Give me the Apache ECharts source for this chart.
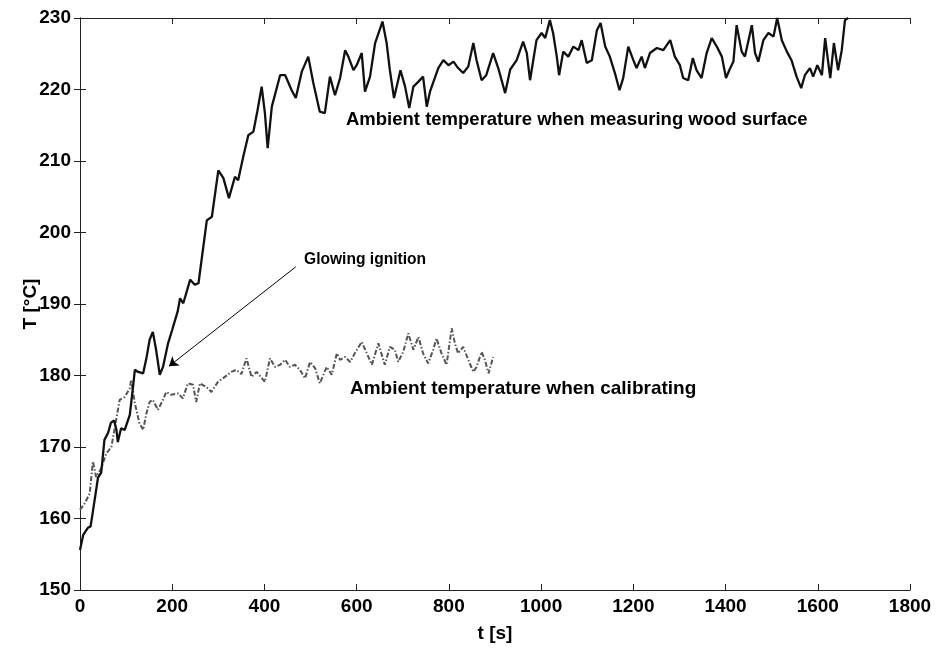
<!DOCTYPE html>
<html>
<head>
<meta charset="utf-8">
<script src="https://cdn.jsdelivr.net/npm/echarts@6/dist/echarts.min.js"></script>
<style>html,body{margin:0;padding:0;background:#fff}#c{width:936px;height:648px}</style>
</head>
<body>
<div id="c"></div>
<script>
// Ambient temperature when measuring wood surface (solid)
var tSolid = [0,7,17,23,28,39,46,53,61,67,74,79,82,89,97,108,115,119,126,137,144,151,158,165,173,180,191,200,212,217,224,239,249,257,275,286,300,311,323,336,343,354,365,376,385,394,401,407,416,434,445,459,468,481,495,506,520,531,542,553,564,575,582,593,600,611,618,629,640,656,665,672,681,695,705,714,723,734,744,752,759,777,788,799,810,820,831,842,853,860,871,881,896,907,922,933,947,961,969,976,990,1001,1009,1019,1026,1034,1039,1048,1059,1070,1081,1088,1099,1110,1121,1129,1139,1149,1160,1170,1178,1189,1200,1207,1218,1225,1236,1251,1265,1280,1290,1301,1308,1319,1329,1337,1348,1359,1370,1381,1392,1401,1408,1417,1424,1435,1442,1457,1464,1471,1482,1493,1504,1512,1522,1533,1543,1554,1564,1572,1583,1590,1599,1609,1616,1627,1635,1644,1652,1659,1666];
var TSolid = [155.6,157.7,158.7,158.9,161,165.7,166.4,171,172,173.4,173.7,172.4,170.7,172.6,172.4,174.5,178.4,180.8,180.5,180.3,182.4,185,186.1,183.6,180.1,181.2,184.5,186.4,189,190.8,190.1,193.4,192.7,192.9,201.7,202.2,208.7,207.6,204.8,207.8,207.3,210.6,213.6,214.1,217.1,220.4,216.7,211.8,217.6,222,222,219.9,218.8,222.5,224.6,220.9,216.9,216.7,221.8,219.2,221.6,225.5,224.6,222.7,223.4,225.1,219.7,221.8,226.5,229.5,226.5,222.7,218.8,222.7,220.4,217.4,220.4,221.1,221.8,217.6,219.7,223,224.1,223.4,223.9,223,222.3,223.2,226.5,224.1,221.3,222,225.1,223,219.5,222.8,224.1,226.7,225.1,221.3,226.9,227.9,227.2,229.7,227.9,224.6,222,225.3,224.6,226,225.5,226.9,223.7,224.1,228.3,229.3,226,224.6,222.3,219.9,221.6,226,224.1,223,224.6,223,225.1,225.8,225.5,226.9,224.6,223.4,221.6,221.3,224.4,222.7,221.6,225.1,227.2,226,224.6,221.6,222.7,223.9,229,225.3,224.6,229,225.1,223.9,226.9,227.9,227.4,230,226.9,225.3,224.1,221.8,220.2,222,223,221.8,223.4,222,227.2,221.6,226.5,222.7,225.5,229.7,230];

// Ambient temperature when calibrating (dash-dot)
var tCal = [0,10,21,28,35,46,57,68,79,86,97,108,111,119,129,137,144,151,158,169,180,187,198,213,223,234,245,252,260,274,285,299,314,328,339,350,361,372,383,401,412,423,434,445,455,466,477,488,499,510,520,535,546,557,564,575,586,596,611,622,633,647,661,672,683,690,701,712,723,734,744,755,766,773,784,795,806,813,820,831,842,853,860,871,878,886,896];
var TCal = [161.2,162.1,163.5,168,165.8,167,169.1,170,174,176.6,177,178.2,179.4,176.1,173.3,172.4,174.7,176.3,176.6,175.2,176.6,177.7,177.3,177.5,176.8,178.9,178.7,176.3,178.9,178.4,177.7,179.1,179.8,180.5,180.8,180.2,182.4,179.8,180.5,179.1,182.4,181.2,181.5,182.2,181.2,181.5,180.8,179.6,181.9,181,178.9,181.2,180.1,183.1,182.2,182.6,181.9,183.1,184.7,183.1,181.5,184.5,181.5,184,183.6,181.9,183.3,185.9,183.6,185.4,183.1,181.7,183.6,185.2,183.1,181.5,186.6,184.5,183.1,184,182.2,180.5,181.2,183.3,182.2,180.3,182.6];

var xTicks = {min: 0, max: 1800, interval: 200};
var yTicks = {min: 150, max: 230, interval: 10};

// Glowing ignition arrow (data coordinates: from label to the dip)
var arrowFrom = [468, 195.2];
var arrowTo = [193, 181.3];

var FONT = "'Liberation Sans', Arial, sans-serif";

function zip(a, b) { return a.map(function (v, i) { return [v, b[i]]; }); }

var chart = echarts.init(document.getElementById('c'), null, {renderer: 'canvas'});
var axisLine = {show: true, lineStyle: {color: '#222', width: 1}};
var tick = {show: true, inside: true, length: 6, lineStyle: {color: '#222'}};
var lbl = {color: '#000', fontFamily: FONT, fontWeight: 'bold', fontSize: 19,
           formatter: function (v) { return String(v); }};

chart.setOption({
  animation: false,
  backgroundColor: '#fff',
  grid: {left: 80, right: 26, top: 18, bottom: 58, containLabel: false},
  xAxis: [
    {type: 'value', min: xTicks.min, max: xTicks.max, interval: xTicks.interval,
     axisLine: axisLine, axisTick: tick, splitLine: {show: false},
     axisLabel: Object.assign({margin: 7}, lbl),
     name: 't [s]', nameLocation: 'middle', nameGap: 34, nameMoveOverlap: false,
     nameTextStyle: {color: '#000', fontFamily: FONT, fontWeight: 'bold', fontSize: 19}},
    {type: 'value', position: 'top', min: xTicks.min, max: xTicks.max, interval: xTicks.interval,
     axisLine: axisLine, axisTick: tick, splitLine: {show: false}, axisLabel: {show: false}}
  ],
  yAxis: [
    {type: 'value', min: yTicks.min, max: yTicks.max, interval: yTicks.interval,
     axisLine: axisLine, axisTick: tick, splitLine: {show: false},
     axisLabel: Object.assign({margin: 9}, lbl),
     name: 'T [°C]', nameLocation: 'middle', nameGap: 40, nameMoveOverlap: false,
     nameTextStyle: {color: '#000', fontFamily: FONT, fontWeight: 'bold', fontSize: 19}},
    {type: 'value', position: 'right', min: yTicks.min, max: yTicks.max, interval: yTicks.interval,
     axisLine: axisLine, axisTick: tick, splitLine: {show: false}, axisLabel: {show: false}}
  ],
  series: [
    {name: 'calibrating', type: 'line', data: zip(tCal, TCal), showSymbol: false, symbol: 'none',
     lineStyle: {color: '#555', width: 2, type: [5, 2, 1.5, 2]}, z: 2},
    {name: 'wood surface', type: 'line', data: zip(tSolid, TSolid), showSymbol: false, symbol: 'none',
     lineStyle: {color: '#111', width: 2.3}, z: 3,
     markLine: {silent: true, symbol: ['none', 'arrow'], symbolSize: 9, animation: false,
       label: {show: false},
       lineStyle: {color: '#000', width: 1, type: 'solid'},
       data: [[{coord: arrowFrom}, {coord: arrowTo}]]}}
  ],
  graphic: [
    {type: 'text', left: 346, top: 110, style: {text: 'Ambient temperature when measuring wood surface', font: 'bold 18.5px ' + FONT, fill: '#000'}},
    {type: 'text', left: 304, top: 252, style: {text: 'Glowing ignition', font: 'bold 15.6px ' + FONT, fill: '#000'}},
    {type: 'text', left: 350, top: 379, style: {text: 'Ambient temperature when calibrating', font: 'bold 19px ' + FONT, fill: '#000'}}
  ]
});
</script>
</body>
</html>
